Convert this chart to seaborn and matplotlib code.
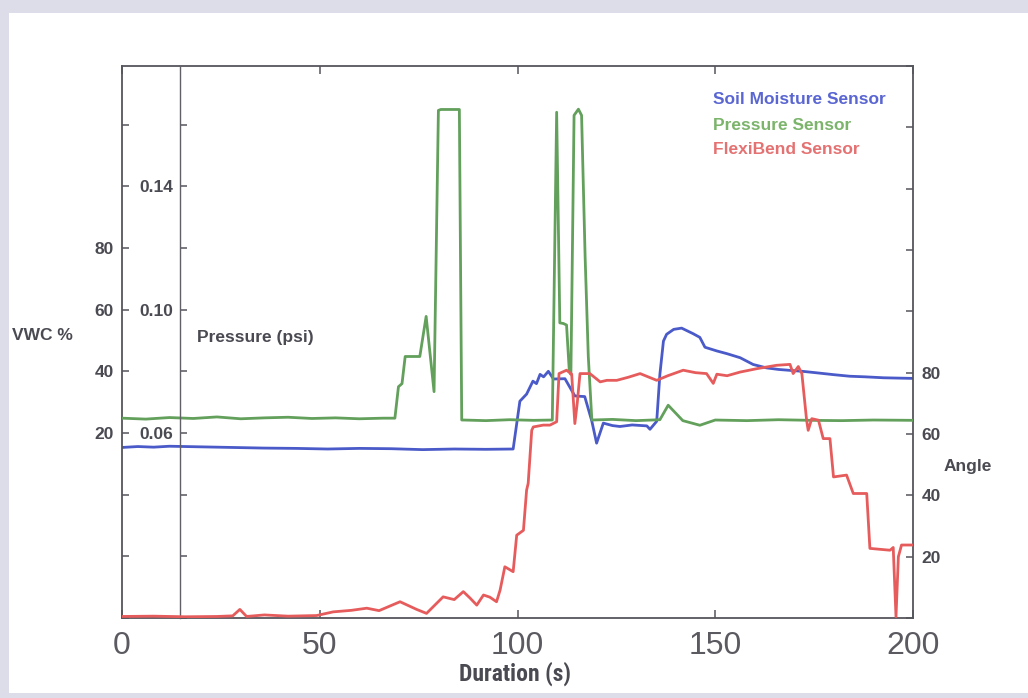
import numpy as np
import pandas as pd
import seaborn as sns
import matplotlib
matplotlib.use("Agg")
import matplotlib.pyplot as plt
from matplotlib.patches import Rectangle
from matplotlib.ticker import FixedLocator, FuncFormatter

# ---------------- data ----------------
t_vwc = [0, 4, 8, 12, 20, 28, 36, 44, 52, 60, 68, 76, 84, 92,
         98.9, 100.6, 102.3, 103.9, 104.8, 105.7, 106.6, 107.8, 109.1,
         112.0, 114.5, 117.0, 118.8, 120.0, 121.7, 124, 125.9, 129,
         132.7, 133.5, 135.2, 136.0, 136.9, 137.7, 139.5, 141.5, 144.4,
         146.1, 147.4, 150.4, 153, 156.3, 159.6, 163.0, 166, 168.9,
         172, 175.7, 180, 184.0, 188, 192.5, 196, 200]
vwc = [15.3, 15.6, 15.4, 15.7, 15.5, 15.3, 15.1, 15.0, 14.8, 15.0, 14.9, 14.6, 14.8, 14.7,
       14.8, 30.3, 32.6, 36.8, 36.0, 39.0, 38.2, 40.0, 37.5,
       37.6, 32.0, 31.8, 23.8, 16.7, 23.2, 22.4, 22.1, 22.6,
       22.3, 21.2, 23.8, 39.0, 49.8, 52.0, 53.6, 54.0, 52.2,
       51.0, 47.8, 46.6, 45.7, 44.4, 42.2, 41.1, 40.6, 40.3,
       40.0, 39.5, 38.9, 38.4, 38.2, 37.9, 37.8, 37.7]

t_psi = [0, 6, 12, 18, 24, 30, 36, 42, 48, 54, 60, 66,
         69.0, 69.9, 70.8, 71.6, 75.3, 76.9, 78.9, 80.0, 80.6, 85.3,
         85.9, 86.4, 92, 98, 104, 108.8, 109.9, 110.7, 111.6, 112.4,
         113.1, 113.5, 114.3, 115.4, 116.2, 117.1, 117.9, 118.8,
         124, 130, 136, 138.1, 141.8, 146.1, 150, 158, 166, 174,
         182, 190, 200]
psi = [0.0648, 0.0645, 0.0650, 0.0647, 0.0652, 0.0646, 0.0649, 0.0651, 0.0647, 0.0649, 0.0646, 0.0648,
       0.0648, 0.0750, 0.0760, 0.0848, 0.0848, 0.0978, 0.0734, 0.1646, 0.1649, 0.1649,
       0.0642, 0.0642, 0.0640, 0.0643, 0.0641, 0.0642, 0.1640, 0.0957, 0.0955, 0.0950,
       0.0800, 0.0790, 0.1630, 0.1650, 0.1630, 0.1170, 0.0848, 0.0642,
       0.0644, 0.0640, 0.0643, 0.0690, 0.0640, 0.0625, 0.0642, 0.0640, 0.0643, 0.0641,
       0.0640, 0.0642, 0.0641]

t_ang = [0, 8, 16, 24, 28, 29.8, 31.5, 36, 42, 49.2,
         53.4, 58, 61.9, 65, 70.3, 74.5, 77.0, 81.2, 84, 86.3,
         88, 89.7, 91.4, 93, 94.7, 95.6, 96.8, 98.9, 99.8, 101.5,
         102.3, 102.7, 103.6, 104.0, 106.5, 108.2, 109.9, 110.5, 112.4, 113.7,
         114.5, 115.1, 115.8, 118.3, 120.9, 122.6, 125.1, 128, 131.0, 135.2,
         138, 141.9, 145, 147.8, 149.5, 150.4, 153, 156.3, 160.5, 165.5,
         168.9, 169.7, 171.0, 171.9, 173.1, 173.5, 174.4, 176.1, 177.3, 179.0,
         179.9, 183.2, 184.9, 188.3, 189.1, 194.2, 195.0, 195.7, 196.3, 197.1,
         200]
angle = [0.5, 0.6, 0.4, 0.5, 0.7, 2.8, 0.5, 1.0, 0.6, 0.8,
         2.0, 2.5, 3.2, 2.4, 5.3, 2.8, 1.5, 6.9, 6.0, 8.6,
         6.5, 4.2, 7.5, 6.8, 5.3, 9.1, 16.7, 15.1, 27.0, 28.6,
         41.7, 43.9, 61.2, 62.3, 62.9, 62.9, 64.0, 79.7, 80.8, 79.5,
         63.4, 70.0, 79.7, 79.7, 77.0, 77.5, 77.5, 78.5, 79.7, 77.5,
         79.0, 80.8, 80.0, 79.7, 76.5, 79.5, 79.0, 80.2, 81.3, 82.4,
         82.7, 79.7, 82.0, 79.7, 64.5, 61.2, 65.0, 64.5, 58.5, 58.5,
         46.0, 46.6, 40.6, 40.6, 22.7, 22.1, 23.0, 0.4, 20.0, 23.8,
         23.8]

series_names = ["Soil Moisture Sensor", "Pressure Sensor", "FlexiBend Sensor"]
x_ticks = [0, 50, 100, 150, 200]
vwc_labels = [20, 40, 60, 80]
psi_labels = [0.06, 0.10, 0.14]
ang_labels = [20, 40, 60, 80]

# ---------------- style ----------------
sns.set_theme(style="white")
plt.rcParams["font.family"] = ["Liberation Sans", "DejaVu Sans"]

C_BLUE = "#4a5ac8"
C_GREEN = "#62a05c"
C_RED = "#e65c5c"
C_TXT = "#4a4a52"
C_SPINE = "#55555c"

fig = plt.figure(figsize=(10.28, 6.98), dpi=100)
fig.patch.set_facecolor("#dcdde9")
fig.add_artist(Rectangle((9 / 1028, 5 / 698), 1 - 9 / 1028, 1 - 18 / 698,
                         transform=fig.transFigure, facecolor="white",
                         edgecolor="none", zorder=-10))

L, R, T, B = 122, 913, 66, 618
ax = fig.add_axes([L / 1028, 1 - B / 698, (R - L) / 1028, (B - T) / 698])
ax.set_facecolor("white")

df_v = pd.DataFrame({"t": t_vwc, "v": vwc})
df_p = pd.DataFrame({"t": t_psi, "v": psi})
df_a = pd.DataFrame({"t": t_ang, "v": angle})

sns.lineplot(data=df_v, x="t", y="v", ax=ax, color=C_BLUE, lw=2.0,
             estimator=None, sort=False)
ax.set_xlim(0, 200)
ax.set_ylim(-40, 139)

ax_p = ax.twinx()
sns.lineplot(data=df_p, x="t", y="v", ax=ax_p, color=C_GREEN, lw=2.0,
             estimator=None, sort=False)
ax_p.set_ylim(0, 0.179)

ax_a = ax.twinx()
sns.lineplot(data=df_a, x="t", y="v", ax=ax_a, color=C_RED, lw=2.0,
             estimator=None, sort=False)
ax_a.set_ylim(0, 180)
ax_a.set_xlim(0, 200)

for a in (ax, ax_p, ax_a):
    a.set_xlabel("")
    a.set_ylabel("")
    a.grid(False)

# main axis spines
for s in ax.spines.values():
    s.set_color(C_SPINE)
    s.set_linewidth(1.3)
for a in (ax_p, ax_a):
    for s in a.spines.values():
        s.set_visible(False)

# VWC axis (outer left)
ax.yaxis.set_major_locator(FixedLocator(list(range(-40, 140, 20))))
ax.yaxis.set_major_formatter(FuncFormatter(lambda v, p: f"{int(round(v))}" if round(v) in vwc_labels else ""))
ax.tick_params(axis="y", which="major", direction="in", length=5, width=1.1,
               color=C_SPINE, left=True, right=False, pad=6,
               labelsize=12.5, labelcolor=C_TXT)
for lab in ax.get_yticklabels():
    lab.set_fontweight("bold")

# x axis
ax.xaxis.set_major_locator(FixedLocator(x_ticks))
ax.tick_params(axis="x", which="major", direction="in", length=6, width=1.1,
               color=C_SPINE, top=True, bottom=True, pad=9,
               labelsize=23, labelcolor="#5a5a60")

# Pressure axis (inner left spine)
ax_p.spines["left"].set_visible(True)
ax_p.spines["left"].set_position(("axes", 58 / 791))
ax_p.spines["left"].set_color("#606066")
ax_p.spines["left"].set_linewidth(1.0)
ax_p.yaxis.set_ticks_position("left")
ax_p.yaxis.set_major_locator(FixedLocator([0.02 * i for i in range(0, 10)]))
ax_p.yaxis.set_major_formatter(FuncFormatter(
    lambda v, p: f"{v:.2f}" if any(abs(v - q) < 1e-6 for q in psi_labels) else ""))
ax_p.tick_params(axis="y", which="major", direction="in", length=5, width=1.1,
                 color=C_SPINE, left=True, right=False, labelleft=True,
                 labelright=False, pad=5, labelsize=12.5, labelcolor=C_TXT)
for lab in ax_p.get_yticklabels():
    lab.set_fontweight("bold")

# Angle axis (right)
ax_a.yaxis.set_ticks_position("right")
ax_a.yaxis.set_major_locator(FixedLocator(list(range(0, 181, 20))))
ax_a.yaxis.set_major_formatter(FuncFormatter(lambda v, p: f"{int(round(v))}" if round(v) in ang_labels else ""))
ax_a.tick_params(axis="y", which="major", direction="in", length=5, width=1.1,
                 color=C_SPINE, right=True, left=False, labelright=True,
                 labelleft=False, pad=6, labelsize=12.5, labelcolor=C_TXT)
for lab in ax_a.get_yticklabels():
    lab.set_fontweight("bold")

# axis titles
def px(x, y):
    return x / 1028, 1 - y / 698

fig.text(*px(42, 336), "VWC %", ha="center", va="center", fontsize=12.5,
         fontweight="bold", color=C_TXT)
fig.text(*px(197, 338), "Pressure (psi)", ha="left", va="center", fontsize=12.5,
         fontweight="bold", color=C_TXT)
fig.text(*px(968, 467), "Angle", ha="center", va="center", fontsize=12.5,
         fontweight="bold", color=C_TXT)
fig.text(*px(515, 674), "Duration (s)", ha="center", va="center", fontsize=17,
         fontweight="bold", fontstretch="condensed",
         family=["Roboto Condensed", "Liberation Sans"], color=C_TXT)

# legend as coloured text
leg_colors = ["#5a66d2", "#7cb46c", "#e47272"]
for i, (name, col) in enumerate(zip(series_names, leg_colors)):
    fig.text(*px(713, 100 + 25 * i), name, ha="left", va="center",
             fontsize=12.5, fontweight="bold", color=col)

fig.savefig("out.png", dpi=100, facecolor=fig.get_facecolor())
